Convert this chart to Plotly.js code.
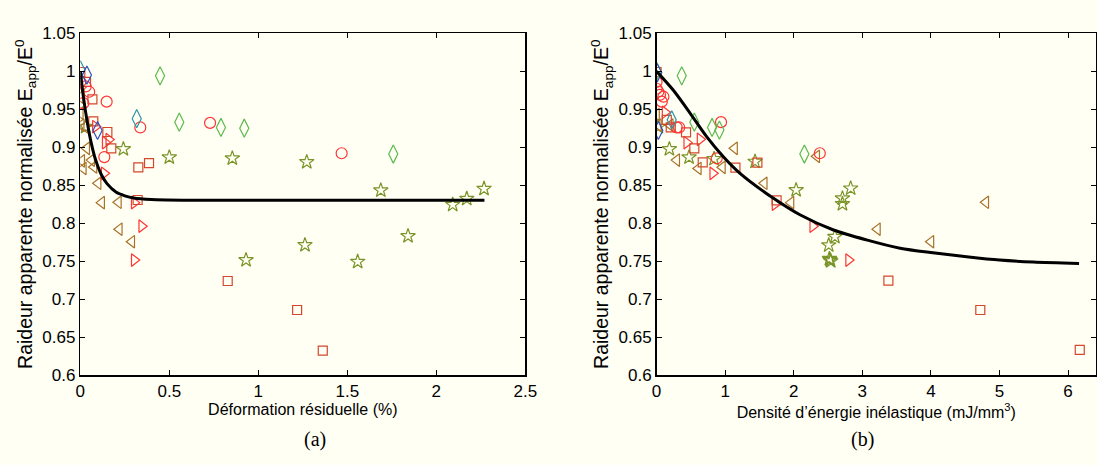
<!DOCTYPE html>
<html>
<head>
<meta charset="utf-8">
<script src="https://cdn.plot.ly/plotly-3.0.1.min.js"></script>
<style>html,body{margin:0;padding:0;background:#FFFFF4;}#chart{width:1097px;height:465px;}</style>
</head>
<body>
<div id="chart"></div>
<script>
// ---------- Data: (a) residual strain ----------
const L_circle_x = [0, 0.03, 0.05, 0.017, 0.148, 0.135, 0.337, 0.729, 1.468];
const L_circle_y = [0.986, 0.98, 0.973, 0.958, 0.960, 0.887, 0.926, 0.932, 0.892];
const L_square_x = [0, 0.032, 0.068, 0.073, 0.152, 0.174, 0.326, 0.386, 0.322, 0.828, 1.218, 1.362];
const L_square_y = [0.999, 0.986, 0.963, 0.934, 0.920, 0.8985, 0.8735, 0.879, 0.8305, 0.7238, 0.6856, 0.632];
const L_rtri_x = [0.085, 0.14, 0.16, 0.134, 0.303, 0.345, 0.303];
const L_rtri_y = [0.927, 0.906, 0.91, 0.8656, 0.827, 0.796, 0.7514];
const L_ltri_x = [0, 0, 0.005, 0.026, 0.036, 0.008, 0.064, 0.017, 0.077, 0.1, 0.12, 0.214, 0.219, 0.289];
const L_ltri_y = [0.966, 0.945, 0.929, 0.927, 0.8985, 0.882, 0.883, 0.872, 0.874, 0.8525, 0.827, 0.8275, 0.792, 0.7755];
const L_star_x = [0.03, 0.242, 0.5, 0.854, 1.272, 1.688, 2.092, 2.171, 2.268, 1.841, 1.262, 1.558, 0.931];
const L_star_y = [0.927, 0.8976, 0.8867, 0.8854, 0.8805, 0.8432, 0.8243, 0.8322, 0.8453, 0.783, 0.7712, 0.7492, 0.7514];
const L_gdiam_x = [0.448, 0.556, 0.79, 0.921, 1.758];
const L_gdiam_y = [0.994, 0.933, 0.926, 0.925, 0.891];
const L_tdiam_x = [0, 0.317];
const L_tdiam_y = [1.002, 0.9376];
const L_bdiam_x = [0.037, 0.097];
const L_bdiam_y = [0.995, 0.922];
const L_fit_x = [0, 0.02, 0.04, 0.06, 0.08, 0.1, 0.12, 0.15, 0.2, 0.25, 0.3, 0.4, 0.6, 1.0, 1.5, 2.0, 2.27];
const L_fit_y = [1.0, 0.962, 0.932, 0.907, 0.888, 0.874, 0.863, 0.852, 0.841, 0.836, 0.833, 0.831, 0.8302, 0.83, 0.83, 0.83, 0.83];

// ---------- Data: (b) inelastic energy density ----------
const R_circle_x = [0, 0, 0.026, 0.05, 0.1, 0.076, 0.294, 0.33, 0.94, 0.877, 2.38];
const R_circle_y = [0.986, 0.977, 0.973, 0.969, 0.9665, 0.96, 0.926, 0.926, 0.933, 0.8854, 0.892];
const R_square_x = [0, 0.149, 0.207, 0.43, 0.551, 0.673, 1.15, 1.47, 1.75, 3.38, 4.72, 6.17];
const R_square_y = [0.999, 0.936, 0.926, 0.9196, 0.8985, 0.880, 0.873, 0.8796, 0.830, 0.7242, 0.6856, 0.633];
const R_rtri_x = [0.124, 0.44, 0.634, 0.819, 1.727, 2.277, 2.80];
const R_rtri_y = [0.946, 0.906, 0.9104, 0.8656, 0.825, 0.796, 0.7514];
const R_ltri_x = [0, 0.026, 0.2, 0.294, 0.609, 0.96, 1.137, 1.57, 1.96, 2.335, 3.22, 4.0, 4.80];
const R_ltri_y = [0.943, 0.929, 0.929, 0.883, 0.872, 0.8735, 0.8985, 0.8525, 0.827, 0.888, 0.792, 0.7755, 0.8275];
const R_star_x = [0.026, 0.187, 0.474, 0.838, 1.436, 2.035, 2.83, 2.71, 2.71, 2.60, 2.51, 2.52, 2.54, 2.53];
const R_star_y = [0.927, 0.8976, 0.8867, 0.8846, 0.881, 0.8436, 0.8458, 0.8327, 0.8252, 0.782, 0.771, 0.753, 0.750, 0.7514];
const R_gdiam_x = [0, 0.367, 0.551, 0.809, 0.916, 2.155];
const R_gdiam_y = [1.0, 0.994, 0.933, 0.926, 0.9226, 0.891];
const R_tdiam_x = [0.221];
const R_tdiam_y = [0.936];
const R_bdiam_x = [0.01, 0.026];
const R_bdiam_y = [0.998, 0.922];
const R_fit_x = [0, 0.245, 0.488, 0.73, 0.974, 1.217, 1.70, 2.09, 2.58, 3.06, 3.55, 4.03, 4.52, 5.0, 5.49, 6.16];
const R_fit_y = [1.0, 0.975, 0.945, 0.914, 0.8875, 0.8656, 0.833, 0.811, 0.791, 0.778, 0.767, 0.761, 0.7558, 0.7514, 0.7488, 0.747];

const yTickVals = [0.6, 0.65, 0.7, 0.75, 0.8, 0.85, 0.9, 0.95, 1, 1.05];
const yTickText = ['0.6', '0.65', '0.7', '0.75', '0.8', '0.85', '0.9', '0.95', '1', '1.05'];
const xTickValsA = [0, 0.5, 1, 1.5, 2, 2.5];
const xTickTextA = ['0', '0.5', '1', '1.5', '2', '2.5'];
const xTickValsB = [0, 1, 2, 3, 4, 5, 6];
const xTickTextB = ['0', '1', '2', '3', '4', '5', '6'];

// ---------- Styles ----------
const C_RED = '#FF3434';
const C_SQ = '#D4472C';
const C_BROWN = '#A8722A';
const C_OLIVE = '#7A9428';
const C_GREEN = '#5CBA4E';
const C_TEAL = '#2F96A6';
const C_BLUE = '#3350BE';

function pts(x, y, sym, col, size, ax) {
  return {x: x, y: y, type: 'scatter', mode: 'markers', xaxis: ax[0], yaxis: ax[1],
    marker: {symbol: sym, size: size, color: col, line: {color: col, width: 1.2}},
    hoverinfo: 'x+y', showlegend: false};
}
function fit(x, y, ax) {
  return {x: x, y: y, type: 'scatter', mode: 'lines', xaxis: ax[0], yaxis: ax[1],
    line: {color: '#000', width: 3, shape: 'spline', smoothing: 0.8}, showlegend: false};
}
const A = ['x', 'y'], B = ['x2', 'y2'];
const traces = [
  pts(L_star_x, L_star_y, 'star-open', C_OLIVE, 11, A),
  pts(L_ltri_x, L_ltri_y, 'triangle-left-open', C_BROWN, 11, A),
  pts(L_rtri_x, L_rtri_y, 'triangle-right-open', C_RED, 11, A),
  pts(L_square_x, L_square_y, 'square-open', C_SQ, 9, A),
  pts(L_circle_x, L_circle_y, 'circle-open', C_RED, 11, A),
  pts(L_gdiam_x, L_gdiam_y, 'diamond-tall-open', C_GREEN, 13, A),
  pts(L_tdiam_x, L_tdiam_y, 'diamond-tall-open', C_TEAL, 13, A),
  pts(L_bdiam_x, L_bdiam_y, 'diamond-tall-open', C_BLUE, 13, A),
  fit(L_fit_x, L_fit_y, A),
  pts(R_star_x, R_star_y, 'star-open', C_OLIVE, 11, B),
  pts(R_ltri_x, R_ltri_y, 'triangle-left-open', C_BROWN, 11, B),
  pts(R_rtri_x, R_rtri_y, 'triangle-right-open', C_RED, 11, B),
  pts(R_square_x, R_square_y, 'square-open', C_SQ, 9, B),
  pts(R_circle_x, R_circle_y, 'circle-open', C_RED, 11, B),
  pts(R_gdiam_x, R_gdiam_y, 'diamond-tall-open', C_GREEN, 13, B),
  pts(R_tdiam_x, R_tdiam_y, 'diamond-tall-open', C_TEAL, 13, B),
  pts(R_bdiam_x, R_bdiam_y, 'diamond-tall-open', C_BLUE, 13, B),
  fit(R_fit_x, R_fit_y, B)
];

const FONT = 'Liberation Sans, Arial, sans-serif';
const tickFont = {family: FONT, size: 17, color: '#000'};
const yTitle = 'Raideur apparente normalisée E<sub>app</sub>/E<sup>0</sup>';
function yax(anchor) {
  return {anchor: anchor, range: [0.6, 1.05], domain: [0.1935, 0.9284],
    tickmode: 'array', tickvals: yTickVals, ticktext: yTickText,
    ticks: 'inside', ticklen: 5, tickcolor: '#000', tickwidth: 1,
    showline: true, linecolor: '#000', linewidth: 1.5, mirror: 'allticks',
    showgrid: false, zeroline: false, tickfont: tickFont, automargin: false,
    title: {text: yTitle, font: {family: FONT, size: 19.5, color: '#000'}, standoff: 4}};
}
function xax(anchor, dom, range, tv, tt, title) {
  return {anchor: anchor, domain: dom, range: range,
    tickmode: 'array', tickvals: tv, ticktext: tt,
    ticks: 'inside', ticklen: 5, tickcolor: '#000', tickwidth: 1,
    showline: true, linecolor: '#000', linewidth: 1.5, mirror: 'allticks',
    showgrid: false, zeroline: false, tickfont: tickFont, automargin: false,
    title: {text: title, font: {family: FONT, size: 16, color: '#000'}, standoff: 2}};
}

const layout = {
  width: 1097, height: 465,
  margin: {l: 0, r: 0, t: 0, b: 0},
  paper_bgcolor: '#FFFFF4', plot_bgcolor: '#FFFFF4',
  showlegend: false,
  xaxis: xax('y', [0.0732, 0.4789], [0, 2.5], xTickValsA, xTickTextA, 'Déformation résiduelle (%)'),
  yaxis: yax('x'),
  xaxis2: xax('y2', [0.5985, 0.9991], [0, 6.407], xTickValsB, xTickTextB, 'Densité d’énergie inélastique (mJ/mm<sup>3</sup>)'),
  yaxis2: yax('x2'),
  annotations: [
    {text: '(a)', xref: 'paper', yref: 'paper', x: 302/1097, y: (465-453)/465, showarrow: false,
     font: {family: 'Liberation Serif, Times New Roman, serif', size: 20, color: '#000'}},
    {text: '(b)', xref: 'paper', yref: 'paper', x: 876/1097, y: (465-453)/465, showarrow: false,
     font: {family: 'Liberation Serif, Times New Roman, serif', size: 20, color: '#000'}}
  ]
};

Plotly.newPlot('chart', traces, layout, {displayModeBar: false, staticPlot: true});
</script>
</body>
</html>
